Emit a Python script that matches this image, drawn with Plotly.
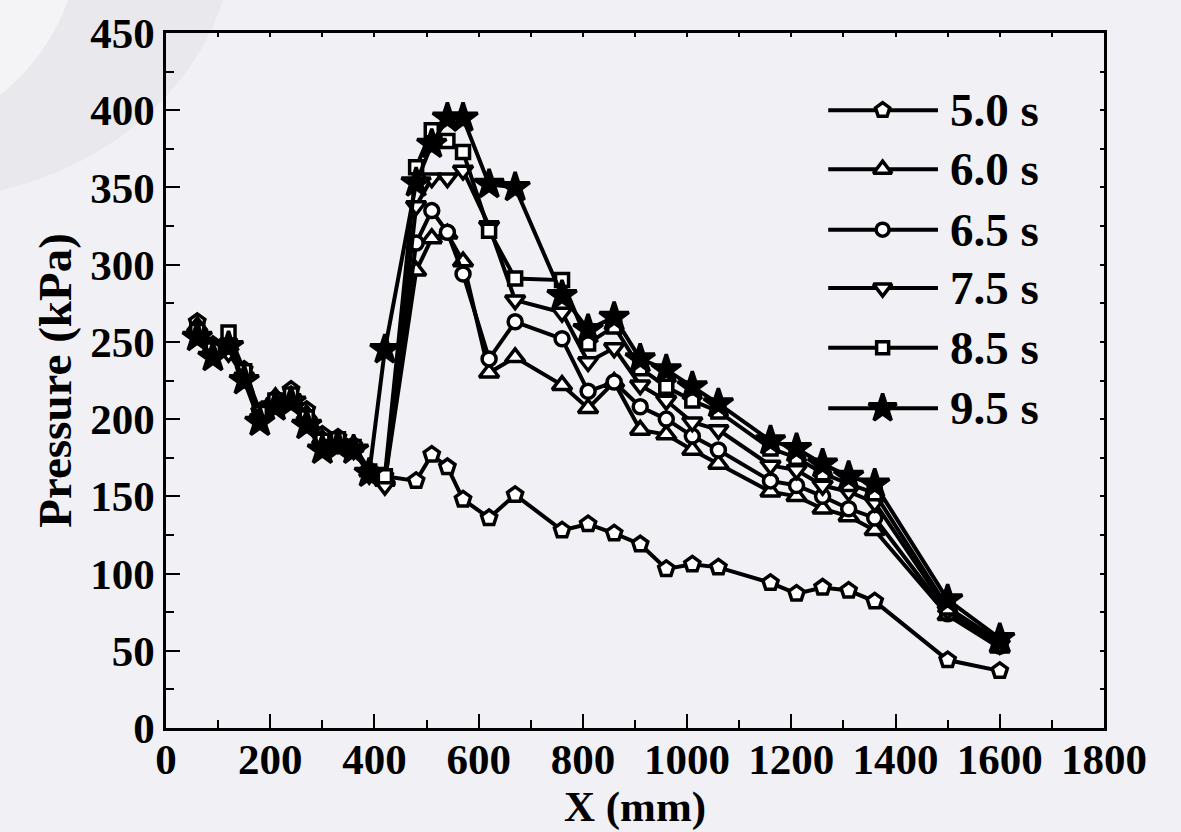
import plotly.graph_objects as go

# ---------------- data ----------------
x_mm = [60, 90, 120, 150, 180, 210, 240, 270, 300, 330, 360, 390, 420,
        480, 510, 540, 570, 620, 670, 760, 810, 860, 910, 960, 1010, 1060,
        1160, 1210, 1260, 1310, 1360, 1500, 1600]

p_50 = [263, 248, 250, 232, 205, 212, 219, 206, 190, 188, 183, 167, 163,
        160, 177, 169, 148, 136, 151, 128, 132, 126, 119, 103, 106, 104,
        94, 87, 91, 89, 82, 44, 37]
p_60 = [260, 246, 252, 230, 203, 214, 215, 203, 187, 186, 182, 166, 160,
        296, 317, 320, 302, 230, 240, 222, 207, 224, 193, 190, 180, 171,
        153, 150, 142, 137, 128, 73, 52]
p_65 = [258, 244, 248, 229, 201, 213, 214, 200, 185, 185, 181, 165, 162,
        314, 335, 321, 294, 239, 263, 252, 218, 224, 208, 200, 189, 180,
        160, 157, 150, 142, 136, 74, 53]
p_75 = [255, 242, 243, 227, 200, 210, 213, 198, 183, 184, 180, 164, 157,
        338, 356, 356, 361, 325, 277, 269, 237, 246, 222, 212, 198, 193,
        170, 167, 157, 153, 146, 76, 54]
p_85 = [257, 245, 256, 231, 204, 212, 216, 201, 186, 187, 182, 166, 163,
        363, 387, 380, 373, 322, 291, 290, 249, 260, 233, 221, 212, 205,
        181, 175, 165, 158, 152, 78, 56]
p_95 = [253, 240, 247, 225, 198, 208, 211, 196, 180, 183, 180, 165, 245,
        353, 378, 395, 395, 352, 350, 280, 258, 266, 239, 232, 221, 210,
        186, 181, 171, 163, 158, 83, 58]

series_names = ["5.0 s", "6.0 s", "6.5 s", "7.5 s", "8.5 s", "9.5 s"]
series_values = [p_50, p_60, p_65, p_75, p_85, p_95]

x_ticks = [0, 200, 400, 600, 800, 1000, 1200, 1400, 1600, 1800]
y_ticks = [0, 50, 100, 150, 200, 250, 300, 350, 400, 450]

# ---------------- styling ----------------
FONT = "Liberation Serif"
BG = "#f0f0f5"
styles = [
    dict(symbol="pentagon", size=16, color="white"),
    dict(symbol="triangle-up", size=17, color="white"),
    dict(symbol="circle", size=14, color="white"),
    dict(symbol="triangle-down", size=17, color="white"),
    dict(symbol="square", size=13, color="white"),
    dict(symbol="star", size=22, color="black"),
]

fig = go.Figure()

for name, vals, st in zip(series_names, series_values, styles):
    fig.add_trace(go.Scatter(
        x=x_mm, y=vals, name=name, mode="lines+markers",
        line=dict(color="black", width=4),
        marker=dict(symbol=st["symbol"], size=st["size"], color=st["color"],
                    line=dict(color="black", width=3.5)),
        showlegend=False,
    ))

# dummy trace for mirrored tick axes (top / right)
fig.add_trace(go.Scatter(x=[None], y=[None], xaxis="x2", yaxis="y2",
                         showlegend=False, hoverinfo="skip"))

# ---------------- custom legend (overlay axes in plot-fraction units) ----------------
leg_x0, leg_xm, leg_x1 = 0.706, 0.764, 0.823
leg_text_x = 0.834
leg_rows = [0.889, 0.804, 0.717, 0.633, 0.547, 0.460]
for name, st, yy in zip(series_names, styles, leg_rows):
    fig.add_trace(go.Scatter(
        x=[leg_x0, leg_x1], y=[yy, yy], mode="lines", xaxis="x3", yaxis="y3",
        line=dict(color="black", width=4), showlegend=False, hoverinfo="skip"))
    fig.add_trace(go.Scatter(
        x=[leg_xm], y=[yy], mode="markers", xaxis="x3", yaxis="y3",
        marker=dict(symbol=st["symbol"], size=st["size"] - 1, color=st["color"],
                    line=dict(color="black", width=3.5)),
        showlegend=False, hoverinfo="skip"))
    fig.add_annotation(x=leg_text_x, y=yy, xref="x3", yref="y3", text=name,
                       showarrow=False, xanchor="left", yanchor="middle",
                       font=dict(family=FONT, size=47, color="black", weight="bold"))

# ---------------- watermark ring (top-left background) ----------------
fig.add_shape(type="circle", xref="paper", yref="paper", layer="below",
              x0=-0.603, x1=0.0722, y0=0.760, y1=1.537,
              fillcolor="#e8e8ed", line=dict(width=0))
fig.add_shape(type="circle", xref="paper", yref="paper", layer="below",
              x0=-0.5395, x1=-0.0917, y0=0.846, y1=1.450,
              fillcolor="#f4f4f7", line=dict(width=0))

tickfont = dict(family=FONT, size=43, color="black", weight="bold")
titlefont_x = dict(family=FONT, size=43, color="black", weight="bold")
titlefont_y = dict(family=FONT, size=47, color="black", weight="bold")

fig.update_layout(
    width=1181, height=832,
    margin=dict(l=166, r=77, t=33, b=104, autoexpand=False),
    paper_bgcolor=BG, plot_bgcolor="rgba(0,0,0,0)",
    showlegend=False,
    xaxis=dict(
        range=[0, 1800], tickvals=x_ticks, ticktext=[str(v) for v in x_ticks],
        ticks="inside", ticklen=14, tickwidth=2, tickcolor="black",
        minor=dict(ticks="inside", ticklen=8, tickwidth=2, tickcolor="black", dtick=100,
                   showgrid=False),
        showline=True, linewidth=2.5, linecolor="black", mirror=True,
        showgrid=False, zeroline=False, tickfont=tickfont, automargin=False,
        ticklabelstandoff=-8,
        title=dict(text="X (mm)", font=titlefont_x, standoff=0),
    ),
    yaxis=dict(
        range=[0, 450], tickvals=y_ticks, ticktext=[str(v) for v in y_ticks],
        ticks="inside", ticklen=14, tickwidth=2, tickcolor="black",
        minor=dict(ticks="inside", ticklen=8, tickwidth=2, tickcolor="black", dtick=25,
                   showgrid=False),
        showline=True, linewidth=2.5, linecolor="black", mirror=True,
        showgrid=False, zeroline=False, tickfont=tickfont, automargin=False,
        title=dict(text="Pressure (kPa)", font=titlefont_y, standoff=4),
    ),
    xaxis2=dict(overlaying="x", side="top", range=[0, 1800],
                tickvals=list(range(100, 1800, 100)), ticks="inside", ticklen=4,
                tickwidth=2, tickcolor="black", showticklabels=False, automargin=False,
                showgrid=False, zeroline=False, showline=False),
    yaxis2=dict(overlaying="y", side="right", range=[0, 450],
                tickvals=list(range(25, 450, 25)), ticks="inside", ticklen=4,
                tickwidth=2, tickcolor="black", showticklabels=False, automargin=False,
                showgrid=False, zeroline=False, showline=False),
    xaxis3=dict(overlaying="x", range=[0, 1], visible=False, fixedrange=True),
    yaxis3=dict(overlaying="y", range=[0, 1], visible=False, fixedrange=True),
)

fig.write_html(
    "out.html",
    config={"displayModeBar": False},
    post_script="document.body.style.margin='0';document.body.style.overflow='hidden';"
                "document.body.style.background='" + BG + "';",
)
